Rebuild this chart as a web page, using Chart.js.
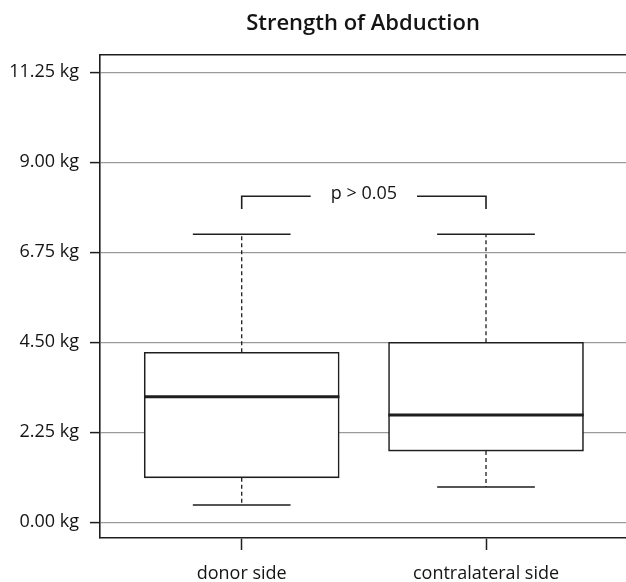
<!DOCTYPE html>
<html>
<head>
<meta charset="utf-8">
<script src="https://cdn.jsdelivr.net/npm/chart.js@4/dist/chart.umd.min.js"></script>
<style>
  html, body { margin: 0; padding: 0; background: #ffffff; overflow: hidden; }
  #wrap { width: 626px; height: 582px; }
</style>
</head>
<body>
<div id="wrap"><canvas id="c" width="626" height="582"></canvas></div>
<script>
// ---- data ----
const categories    = ['donor side', 'contralateral side'];
const categoryPos   = [1, 2];
const lowerWhisker  = [0.43, 0.88];
const lowerQuartile = [1.11, 1.78];
const medians       = [3.14, 2.68];
const upperQuartile = [4.25, 4.50];
const upperWhisker  = [7.20, 7.20];
const yTickValues   = [0, 2.25, 4.5, 6.75, 9, 11.25];
const unitSuffix    = ' kg';
const pValueLabel   = 'p > 0.05';
const bracketLevel  = 8.15;
const bracketDrop   = 7.83;

const FONT = '"Open Sans", "DejaVu Sans", sans-serif';
const INK = '#1e1e1e';
const TEXT = '#141414';

const boxPlugin = {
  id: 'boxExtras',
  afterDatasetsDraw(chart) {
    const ctx = chart.ctx;
    const xs = chart.scales.x, ys = chart.scales.y;
    ctx.save();
    ctx.strokeStyle = INK;
    for (let i = 0; i < categories.length; i++) {
      const cx = xs.getPixelForValue(categoryPos[i]);
      const capL = xs.getPixelForValue(categoryPos[i] - 0.2);
      const capR = xs.getPixelForValue(categoryPos[i] + 0.2);
      const boxL = xs.getPixelForValue(categoryPos[i] - 0.4);
      const boxR = xs.getPixelForValue(categoryPos[i] + 0.4);
      // dashed whiskers
      ctx.lineWidth = 1.3;
      ctx.setLineDash([4, 3]);
      ctx.beginPath();
      ctx.moveTo(cx, ys.getPixelForValue(upperQuartile[i]));
      ctx.lineTo(cx, ys.getPixelForValue(upperWhisker[i]));
      ctx.moveTo(cx, ys.getPixelForValue(lowerQuartile[i]));
      ctx.lineTo(cx, ys.getPixelForValue(lowerWhisker[i]));
      ctx.stroke();
      ctx.setLineDash([]);
      // caps
      ctx.lineWidth = 1.6;
      ctx.beginPath();
      const yu = ys.getPixelForValue(upperWhisker[i]);
      const yl = ys.getPixelForValue(lowerWhisker[i]);
      ctx.moveTo(capL, yu); ctx.lineTo(capR, yu);
      ctx.moveTo(capL, yl); ctx.lineTo(capR, yl);
      ctx.stroke();
      // median
      ctx.lineWidth = 3;
      ctx.beginPath();
      const ym = ys.getPixelForValue(medians[i]);
      ctx.moveTo(boxL, ym); ctx.lineTo(boxR, ym);
      ctx.stroke();
    }
    // significance bracket
    const x1 = xs.getPixelForValue(categoryPos[0]);
    const x2 = xs.getPixelForValue(categoryPos[1]);
    const yb = ys.getPixelForValue(bracketLevel);
    const yd = ys.getPixelForValue(bracketDrop);
    const mid = (x1 + x2) / 2;
    ctx.font = '18px ' + FONT;
    const tw = ctx.measureText(pValueLabel).width;
    const gap = 20;
    ctx.lineWidth = 1.6;
    ctx.beginPath();
    ctx.moveTo(x1, yd); ctx.lineTo(x1, yb); ctx.lineTo(mid - tw / 2 - gap, yb);
    ctx.moveTo(mid + tw / 2 + gap, yb); ctx.lineTo(x2, yb); ctx.lineTo(x2, yd);
    ctx.stroke();
    ctx.fillStyle = TEXT;
    ctx.textAlign = 'center';
    ctx.textBaseline = 'middle';
    ctx.fillText(pValueLabel, mid, yb - 2);
    ctx.restore();
  }
};

new Chart(document.getElementById('c'), {
  type: 'bar',
  data: {
    datasets: [{
      data: categoryPos.map((p, i) => ({ x: p, y: [lowerQuartile[i], upperQuartile[i]] })),
      backgroundColor: '#ffffff',
      borderColor: INK,
      borderWidth: 1.6,
      borderSkipped: false,
      barThickness: 195
    }]
  },
  options: {
    responsive: false,
    animation: false,
    layout: { padding: { left: 0, right: 0, top: 0, bottom: 0 } },
    plugins: {
      legend: { display: false },
      tooltip: { enabled: false },
      title: {
        display: true,
        text: 'Strength of Abduction',
        fullSize: false,
        color: TEXT,
        font: { family: FONT, size: 22, weight: '600' },
        padding: { top: 11, bottom: 17 }
      }
    },
    scales: {
      x: {
        type: 'linear',
        position: 'bottom',
        min: 0.42, max: 2.573,
        offset: false,
        afterBuildTicks: s => { s.ticks = categoryPos.map(v => ({ value: v })); },
        afterFit: s => { s.height = 44; },
        ticks: {
          callback: v => categories[categoryPos.indexOf(v)] || '',
          color: TEXT,
          font: { family: FONT, size: 18 },
          padding: 13,
          maxRotation: 0
        },
        grid: { offset: false, drawOnChartArea: false, tickLength: 12, tickColor: INK, tickWidth: 1.5 },
        border: { display: true, color: INK, width: 1.6 }
      },
      x2: {
        type: 'linear',
        position: 'top',
        min: 0.42, max: 2.573,
        offset: false,
        afterFit: s => { s.height = 0; },
        ticks: { display: false },
        grid: { offset: false, drawOnChartArea: false, drawTicks: false },
        border: { display: true, color: INK, width: 1.6 }
      },
      y: {
        type: 'linear',
        min: -0.393, max: 11.694,
        afterBuildTicks: s => { s.ticks = yTickValues.map(v => ({ value: v })); },
        afterFit: s => { s.width = 100; },
        ticks: {
          callback: v => v.toFixed(2) + unitSuffix,
          color: TEXT,
          font: { family: FONT, size: 18 },
          padding: 11
        },
        grid: { color: '#9a9a9a', lineWidth: 1.2, tickLength: 10, tickColor: INK, tickWidth: 1.5 },
        border: { display: true, color: INK, width: 1.6 }
      }
    }
  },
  plugins: [boxPlugin]
});
</script>
</body>
</html>
